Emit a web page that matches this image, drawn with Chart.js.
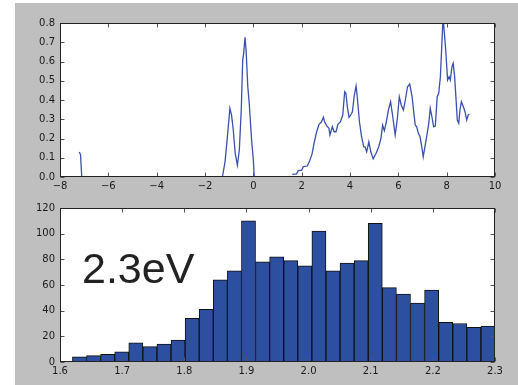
<!DOCTYPE html>
<html>
<head>
<meta charset="utf-8">
<script src="https://cdn.jsdelivr.net/npm/chart.js@4/dist/chart.umd.min.js"></script>
<style>
    html, body { margin: 0; padding: 0; background: #fff; }
    #panel { position: absolute; left: 15px; top: 3px; width: 503px; height: 382px; background: #bfbfbf; }
    #panel canvas { position: absolute; left: 0; }
    #dosCanvas { top: 0; }
    #histCanvas { top: 192px; }
</style>
</head>
<body>
<div id="panel">
    <canvas id="dosCanvas" width="503" height="192"></canvas>
    <canvas id="histCanvas" width="503" height="190"></canvas>
</div>
<script>
// Spectrum (top panel): energy vs. intensity, null marks a break in the curve
const energy = [
    -7.2, -7.15, -7.1, -7.0,
    -1.28, -1.17, -1.06, -0.97, -0.9, -0.83, -0.75, -0.66, -0.58, -0.5, -0.44, -0.4, -0.345, -0.3, -0.23, -0.17, -0.07, 0.0, 0.04, 0.1,
    1.61, 1.79, 1.86, 2.0, 2.07, 2.23, 2.32, 2.43, 2.52, 2.62, 2.72, 2.81, 2.9, 2.95, 3.04, 3.13, 3.17, 3.27, 3.34, 3.42,
    3.5, 3.61, 3.7, 3.78, 3.83, 3.89, 3.96, 4.03, 4.1, 4.17, 4.25, 4.3, 4.39, 4.48, 4.57, 4.62, 4.69, 4.78, 4.86, 4.96,
    5.08, 5.19, 5.28, 5.35, 5.42, 5.49, 5.59, 5.68, 5.77, 5.87, 5.96, 6.04, 6.12, 6.21, 6.29, 6.38, 6.47, 6.57, 6.65,
    6.7, 6.76, 6.83, 6.9, 6.97, 7.03, 7.1, 7.17, 7.26, 7.32, 7.39, 7.46, 7.53, 7.61, 7.67, 7.74, 7.79, 7.85, 7.9, 7.96,
    8.04, 8.1, 8.15, 8.22, 8.27, 8.33, 8.39, 8.44, 8.5, 8.55, 8.61, 8.69, 8.76, 8.83, 8.89, 8.94
];
const intensity = [
    0.13, 0.115, 0.0, null,
    0.0, 0.08, 0.227, 0.357, 0.32, 0.244, 0.123, 0.062, 0.14, 0.348, 0.61, 0.64, 0.726, 0.66, 0.47, 0.383, 0.19, 0.088, 0.0, null,
    0.014, 0.016, 0.033, 0.036, 0.054, 0.057, 0.08, 0.12, 0.18, 0.235, 0.275, 0.284, 0.31, 0.287, 0.265, 0.253, 0.218, 0.261, 0.235, 0.235,
    0.274, 0.287, 0.322, 0.443, 0.435, 0.365, 0.31, 0.322, 0.339, 0.417, 0.473, 0.417, 0.287, 0.209, 0.157, 0.157, 0.131, 0.183, 0.131, 0.094,
    0.123, 0.157, 0.201, 0.27, 0.241, 0.279, 0.348, 0.391, 0.313, 0.218, 0.305, 0.417, 0.374, 0.348, 0.4, 0.469, 0.483, 0.417, 0.322,
    0.27, 0.261, 0.227, 0.209, 0.157, 0.105, 0.157, 0.209, 0.279, 0.357, 0.313, 0.261, 0.265, 0.417, 0.435, 0.521, 0.66, 0.83, 0.755, 0.66,
    0.504, 0.521, 0.504, 0.573, 0.59, 0.521, 0.4, 0.296, 0.279, 0.348, 0.391, 0.365, 0.339, 0.296, 0.322, 0.327
];
const energyTicks = [-8, -6, -4, -2, 0, 2, 4, 6, 8, 10];
const intensityTicks = [0.0, 0.1, 0.2, 0.3, 0.4, 0.5, 0.6, 0.7, 0.8];

// Histogram (bottom panel): counts per bin between binLow and binHigh
const binLow = 1.62;
const binHigh = 2.30;
const counts = [4, 5, 6, 8, 15, 12, 14, 17, 34, 41, 64, 71, 110, 78, 82, 79, 75, 102, 71, 77, 79, 108, 58, 53, 46, 56, 31, 30, 27, 28];
const gapTicks = [1.6, 1.7, 1.8, 1.9, 2.0, 2.1, 2.2, 2.3];
const countTicks = [0, 20, 40, 60, 80, 100, 120];
const histLabel = '2.3eV';

const tickFont = { family: '"DejaVu Sans", sans-serif', size: 10 };
const tickColor = '#1a1a1a';

// gray figure background, white plot area
const panelFill = {
    id: 'panelFill',
    beforeDraw(chart) {
        const { ctx, chartArea: a, width, height } = chart;
        ctx.save();
        ctx.fillStyle = '#bfbfbf';
        ctx.fillRect(0, 0, width, height);
        ctx.fillStyle = '#ffffff';
        ctx.fillRect(a.left, a.top, a.right - a.left, a.bottom - a.top);
        ctx.restore();
    }
};

// box around the plot area with short inward tick marks on all four sides
const frameTicks = {
    id: 'frameTicks',
    afterDraw(chart) {
        const { ctx, chartArea: a, scales } = chart;
        const L = Math.round(a.left) + 0.5, R = Math.round(a.right) - 0.5;
        const T = Math.round(a.top) + 0.5, B = Math.round(a.bottom) - 0.5;
        ctx.save();
        ctx.strokeStyle = '#555555';
        ctx.lineWidth = 1;
        ctx.beginPath();
        scales.x.ticks.forEach(t => {
            const px = Math.round(scales.x.getPixelForValue(t.value)) + 0.5;
            ctx.moveTo(px, B); ctx.lineTo(px, B - 4);
            ctx.moveTo(px, T); ctx.lineTo(px, T + 4);
        });
        scales.y.ticks.forEach(t => {
            const py = Math.round(scales.y.getPixelForValue(t.value)) + 0.5;
            ctx.moveTo(L, py); ctx.lineTo(L + 4, py);
            ctx.moveTo(R, py); ctx.lineTo(R - 4, py);
        });
        ctx.stroke();
        ctx.strokeStyle = '#222222';
        ctx.strokeRect(L, T, R - L, B - T);
        ctx.restore();
    }
};

function fixedTicks(values) {
    return function (scale) {
        scale.ticks = values.map(v => ({ value: v }));
    };
}

function axis(min, max, ticks, fmt, pad, extra) {
    return Object.assign({
        type: 'linear',
        min: min,
        max: max,
        afterBuildTicks: fixedTicks(ticks),
        grid: { display: false, drawTicks: false },
        border: { display: false },
        ticks: {
            color: tickColor,
            font: tickFont,
            padding: pad,
            maxRotation: 0,
            autoSkip: false,
            callback: fmt
        }
    }, extra);
}

const minus = v => String(v).replace('-', '\u2212');

new Chart(document.getElementById('dosCanvas'), {
    type: 'line',
    data: {
        datasets: [{
            data: energy.map((e, i) => ({ x: e, y: intensity[i] })),
            borderColor: '#3a50ae',
            borderWidth: 1.3,
            pointRadius: 0,
            tension: 0,
            spanGaps: false
        }]
    },
    options: {
        responsive: false,
        animation: false,
        devicePixelRatio: 1,
        layout: { padding: { top: 20, right: 23, left: 0, bottom: 0 } },
        plugins: { legend: { display: false }, tooltip: { enabled: false } },
        scales: {
            x: axis(-8, 10, energyTicks, v => minus(v), 3, {
                afterFit: s => { s.height = 18; }
            }),
            y: axis(0, 0.8, intensityTicks, v => v.toFixed(1), 5, {
                afterFit: s => { s.width = 45; }
            })
        }
    },
    plugins: [panelFill, frameTicks]
});

const binWidth = (binHigh - binLow) / counts.length;

// big annotation text inside the histogram
const histText = {
    id: 'histText',
    afterDraw(chart) {
        const { ctx } = chart;
        ctx.save();
        ctx.font = '43px "Liberation Sans", Arial, sans-serif';
        ctx.fillStyle = '#222222';
        ctx.textBaseline = 'alphabetic';
        ctx.fillText(histLabel, 67, 88);
        ctx.restore();
    }
};

new Chart(document.getElementById('histCanvas'), {
    type: 'bar',
    data: {
        datasets: [{
            data: counts.map((c, i) => ({ x: binLow + (i + 0.5) * binWidth, y: c })),
            backgroundColor: '#2c4f9f',
            borderColor: '#111111',
            borderWidth: 1,
            borderSkipped: 'bottom',
            barPercentage: 1,
            categoryPercentage: 1
        }]
    },
    options: {
        responsive: false,
        animation: false,
        devicePixelRatio: 1,
        layout: { padding: { top: 13, right: 23, left: 0, bottom: 0 } },
        plugins: { legend: { display: false }, tooltip: { enabled: false } },
        scales: {
            x: axis(1.6, 2.3, gapTicks, v => v.toFixed(1), 3, {
                offset: false,
                afterFit: s => { s.height = 23; }
            }),
            y: axis(0, 120, countTicks, v => String(v), 5, {
                afterFit: s => { s.width = 45; }
            })
        }
    },
    plugins: [panelFill, frameTicks, histText]
});
</script>
</body>
</html>
